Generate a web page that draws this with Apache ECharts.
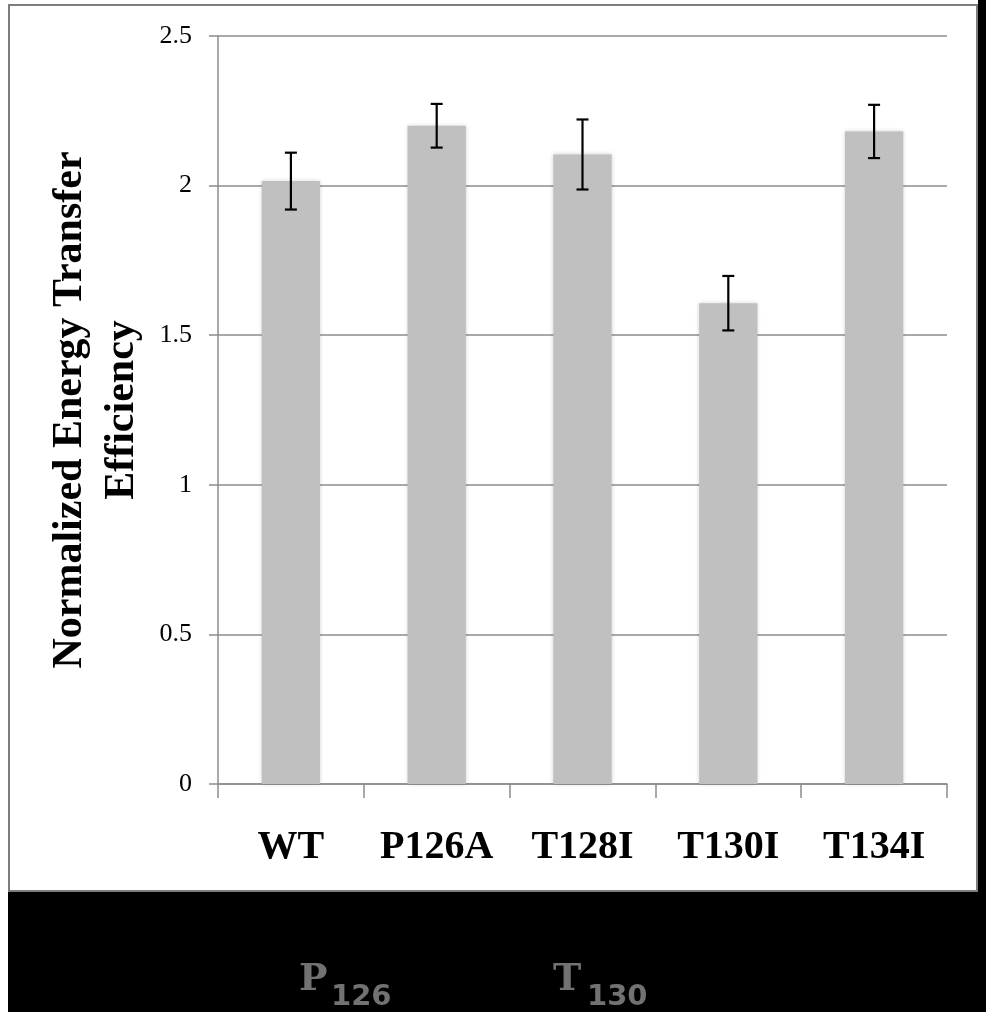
<!DOCTYPE html>
<html>
<head>
<meta charset="utf-8">
<script src="https://cdn.jsdelivr.net/npm/echarts@6/dist/echarts.min.js"></script>
<style>
html,body{margin:0;padding:0;background:#fff;}
#c{width:986px;height:1012px;}
</style>
</head>
<body>
<div id="c"></div>
<script>
var categories = ['WT', 'P126A', 'T128I', 'T130I', 'T134I'];
var values = [2.015, 2.200, 2.104, 1.607, 2.181];
var errors = [0.095, 0.073, 0.117, 0.091, 0.089];
var yTicks = [0, 0.5, 1, 1.5, 2, 2.5];

var chart = echarts.init(document.getElementById('c'));
var serif = '"Liberation Serif", "DejaVu Serif", serif';
var gridColor = '#8c8c8c';

var option = {
  backgroundColor: '#fff',
  animation: false,
  grid: { left: 218, right: 39, top: 36, bottom: 228, containLabel: false },
  graphic: [
    { type: 'rect', z: -100, silent: true, shape: { x: 978, y: 0, width: 8, height: 1012 }, style: { fill: '#000' } },
    { type: 'rect', z: -100, silent: true, shape: { x: 8, y: 892, width: 978, height: 120 }, style: { fill: '#000' } },
    { type: 'rect', z: -99, silent: true, shape: { x: 9, y: 5, width: 968, height: 886 }, style: { fill: '#fff', stroke: '#7d7d7d', lineWidth: 2 } },
    { type: 'text', z: 10, left: 299, top: 961, style: { text: 'P', font: 'bold 38px "DejaVu Serif", serif', fill: '#727272' } },
    { type: 'text', z: 10, left: 331, top: 983, style: { text: '126', font: 'bold 29px "DejaVu Sans", sans-serif', fill: '#727272' } },
    { type: 'text', z: 10, left: 553, top: 961, style: { text: 'T', font: 'bold 38px "DejaVu Serif", serif', fill: '#727272' } },
    { type: 'text', z: 10, left: 587, top: 983, style: { text: '130', font: 'bold 29px "DejaVu Sans", sans-serif', fill: '#727272' } }
  ],
  xAxis: {
    type: 'category',
    data: categories,
    axisLine: { show: true, lineStyle: { color: gridColor, width: 1.5 } },
    axisTick: { show: true, interval: 0, length: 14, alignWithLabel: false, lineStyle: { color: gridColor, width: 1.5 } },
    axisLabel: { interval: 0, margin: 44, fontFamily: serif, fontWeight: 'bold', fontSize: 40, color: '#000' }
  },
  yAxis: {
    type: 'value',
    min: 0, max: 2.5, interval: 0.5,
    name: 'Normalized Energy Transfer\nEfficiency',
    nameLocation: 'middle',
    nameRotate: 90,
    nameGap: 64,
    nameTextStyle: { fontFamily: serif, fontWeight: 'bold', fontSize: 42, color: '#000', lineHeight: 52 },
    axisLine: { show: true, lineStyle: { color: gridColor, width: 1.5 } },
    axisTick: { show: true, length: 9, lineStyle: { color: gridColor, width: 1.5 } },
    axisLabel: {
      margin: 26, fontFamily: serif, fontSize: 26, color: '#000',
      formatter: function (v) { return yTicks.indexOf(v) >= 0 ? String(v) : ''; }
    },
    splitLine: { show: true, lineStyle: { color: gridColor, width: 1.5 } }
  },
  series: [
    {
      type: 'bar',
      data: values,
      barWidth: '40%',
      itemStyle: { color: '#c0c0c0', shadowBlur: 4, shadowColor: 'rgba(0,0,0,0.18)' },
      z: 3
    },
    {
      type: 'custom',
      z: 5,
      data: values.map(function (v, i) { return [i, v - errors[i], v + errors[i]]; }),
      renderItem: function (params, api) {
        var x = api.value(0);
        var lo = api.coord([x, api.value(1)]);
        var hi = api.coord([x, api.value(2)]);
        var hw = 6;
        var st = { stroke: '#000', lineWidth: 2.2 };
        return {
          type: 'group',
          children: [
            { type: 'line', shape: { x1: hi[0], y1: hi[1], x2: lo[0], y2: lo[1] }, style: st },
            { type: 'line', shape: { x1: hi[0] - hw, y1: hi[1], x2: hi[0] + hw, y2: hi[1] }, style: st },
            { type: 'line', shape: { x1: lo[0] - hw, y1: lo[1], x2: lo[0] + hw, y2: lo[1] }, style: st }
          ]
        };
      }
    }
  ]
};
chart.setOption(option);
</script>
</body>
</html>
